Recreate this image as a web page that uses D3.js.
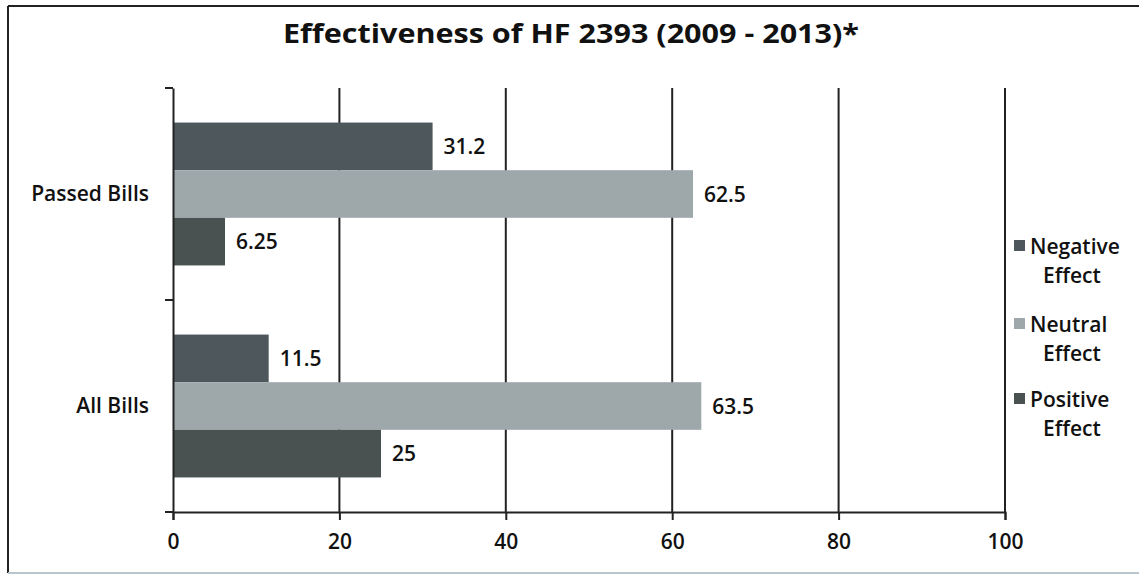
<!DOCTYPE html>
<html>
<head>
<meta charset="utf-8">
<script src="https://cdn.jsdelivr.net/npm/d3@7"></script>
<style>
  html, body { margin: 0; padding: 0; background: #fff; }
  svg { display: block; }
  text { font-family: "Open Sans", "Noto Sans", sans-serif; fill: #111; }
</style>
</head>
<body>
<svg id="chart" width="1139" height="579"></svg>
<script>
// Bill groups (top to bottom) and effect series
const categories = ["Passed Bills", "All Bills"];
const seriesNames = ["Negative Effect", "Neutral Effect", "Positive Effect"];
const negativeValues = [31.2, 11.5];
const neutralValues = [62.5, 63.5];
const positiveValues = [6.25, 25];
const valueLabels = [["31.2", "11.5"], ["62.5", "63.5"], ["6.25", "25"]];
const xTicks = [0, 20, 40, 60, 80, 100];
const seriesColors = ["#4e585c", "#9ea8ab", "#495251"];

const seriesValues = [negativeValues, neutralValues, positiveValues];

const svg = d3.select("#chart");

// Frame around the chart
svg.append("line").attr("x1", 8).attr("x2", 1139).attr("y1", 6).attr("y2", 6)
  .attr("stroke", "#222").attr("stroke-width", 2);
svg.append("line").attr("x1", 8).attr("x2", 8).attr("y1", 6).attr("y2", 573)
  .attr("stroke", "#222").attr("stroke-width", 2);
svg.append("line").attr("x1", 8).attr("x2", 1139).attr("y1", 573).attr("y2", 573)
  .attr("stroke", "#b8c6cc").attr("stroke-width", 2);

// Title
svg.append("text")
  .attr("x", 571).attr("y", 43)
  .attr("text-anchor", "middle")
  .attr("font-size", 27).attr("font-weight", 700)
  .attr("textLength", 576).attr("lengthAdjust", "spacingAndGlyphs")
  .text("Effectiveness of HF 2393 (2009 - 2013)*");

const x = d3.scaleLinear().domain([0, 100]).range([173, 1005]);
const y = d3.scaleBand().domain(categories).range([88, 512]).paddingInner(0).paddingOuter(0);
const yInner = d3.scaleBand().domain(seriesNames)
  .range([y.bandwidth() * 0.163, y.bandwidth() * 0.837]).padding(0);

// Vertical gridlines
svg.append("g")
  .selectAll("line")
  .data(xTicks.filter(d => d > 0))
  .join("line")
  .attr("x1", d => x(d)).attr("x2", d => x(d))
  .attr("y1", 88).attr("y2", 512)
  .attr("stroke", "#222").attr("stroke-width", 2);

// Bars
const rows = [];
categories.forEach((c, ci) => {
  seriesNames.forEach((s, si) => {
    rows.push({ cat: c, series: s, si, value: seriesValues[si][ci], label: valueLabels[si][ci] });
  });
});

svg.append("g")
  .selectAll("rect")
  .data(rows)
  .join("rect")
  .attr("x", x(0))
  .attr("y", d => y(d.cat) + yInner(d.series))
  .attr("width", d => x(d.value) - x(0))
  .attr("height", yInner.bandwidth())
  .attr("fill", d => seriesColors[d.si]);

// Value labels
svg.append("g")
  .selectAll("text")
  .data(rows)
  .join("text")
  .attr("x", d => x(d.value) + 11)
  .attr("y", d => y(d.cat) + yInner(d.series) + yInner.bandwidth() / 2)
  .attr("dy", "0.36em")
  .attr("font-size", 21).attr("font-weight", 600)
  .text(d => d.label);

// X axis
const xAxis = svg.append("g")
  .attr("transform", "translate(0,512)")
  .call(d3.axisBottom(x).tickValues(xTicks).tickSize(8).tickPadding(14).tickFormat(d3.format("d")));
xAxis.select(".domain").attr("stroke", "#222").attr("stroke-width", 2);
xAxis.selectAll(".tick line").attr("stroke", "#222").attr("stroke-width", 2);
xAxis.selectAll(".tick text")
  .attr("font-size", 21).attr("font-weight", 600)
  .attr("font-family", "Open Sans, sans-serif").attr("fill", "#111");

// Y axis
const yAxis = svg.append("g")
  .attr("transform", "translate(173,0)")
  .call(d3.axisLeft(y).tickSize(0).tickPadding(24));
yAxis.select(".domain").attr("stroke", "#222").attr("stroke-width", 2);
yAxis.selectAll(".tick text")
  .attr("font-size", 21).attr("font-weight", 600)
  .attr("font-family", "Open Sans, sans-serif").attr("fill", "#111");

// Category boundary ticks on the y axis
svg.append("g")
  .selectAll("line")
  .data(categories.map(c => y(c)).concat([y.range()[1]]))
  .join("line")
  .attr("x1", 165).attr("x2", 173)
  .attr("y1", d => d).attr("y2", d => d)
  .attr("stroke", "#222").attr("stroke-width", 2);

// Legend
const legend = svg.append("g").attr("transform", "translate(1014,0)");
const legendY = [246, 324, 399];
seriesNames.forEach((s, i) => {
  const g = legend.append("g").attr("transform", `translate(0,${legendY[i]})`);
  g.append("rect").attr("x", 0).attr("y", -6).attr("width", 11).attr("height", 11)
    .attr("fill", seriesColors[i]);
  const words = s.split(" ");
  g.append("text").attr("x", 16).attr("y", 0).attr("dy", "0.36em")
    .attr("font-size", 21).attr("font-weight", 600).text(words[0]);
  g.append("text").attr("x", 29).attr("y", 29).attr("dy", "0.36em")
    .attr("font-size", 21).attr("font-weight", 600).text(words[1]);
});
</script>
</body>
</html>
